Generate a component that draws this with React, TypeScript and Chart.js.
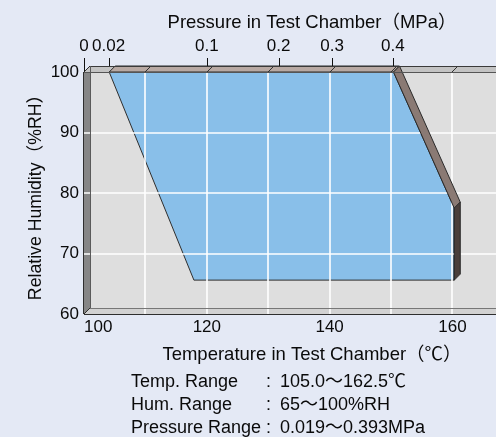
import React, { useEffect, useRef } from 'react';
import { Chart, registerables } from 'chart.js';

Chart.register(...registerables);

// ---------- data ----------
const temperatureC = [104.1, 150.4, 160.3, 160.3, 117.9];
const humidityRH = [100, 100, 77.5, 65.6, 65.6];
const temperatureTicks = [100, 110, 120, 130, 140, 150, 160, 170];
const temperatureLabelTicks = [100, 120, 140, 160];
const humidityTicks = [60, 70, 80, 90, 100];
const pressureTickLabels = ['0', '0.02', '0.1', '0.2', '0.3', '0.4'];
const pressureTickTemps = [100, 104, 120, 131.7, 140.4, 150.3];
const rangeNames = ['Temp. Range', 'Hum. Range', 'Pressure Range'];
const rangeValues = ['105.0～162.5℃', '65～100%RH', '0.019～0.393MPa'];

const FONT = '"Liberation Sans", Arial, "Noto Sans CJK JP", sans-serif';
const TEXT = '#0a0a0a';
const DX = 6;
const DY = 6;

function poly(ctx: CanvasRenderingContext2D, pts: number[][], fill: string | null, stroke: string | null) {
  ctx.beginPath();
  pts.forEach((p, i) => (i === 0 ? ctx.moveTo(p[0], p[1]) : ctx.lineTo(p[0], p[1])));
  ctx.closePath();
  if (fill) {
    ctx.fillStyle = fill;
    ctx.fill();
  }
  if (stroke) {
    ctx.strokeStyle = stroke;
    ctx.lineWidth = 1;
    ctx.stroke();
  }
}

function seg(ctx: CanvasRenderingContext2D, x1: number, y1: number, x2: number, y2: number, color: string, w = 1) {
  ctx.beginPath();
  ctx.moveTo(x1, y1);
  ctx.lineTo(x2, y2);
  ctx.strokeStyle = color;
  ctx.lineWidth = w;
  ctx.stroke();
}

const box3d = {
  id: 'box3d',
  beforeDraw(chart: any) {
    const { ctx, chartArea: a } = chart;
    const L = a.left, R = a.right + 10, T = a.top, B = a.bottom;
    ctx.save();
    ctx.fillStyle = '#dedede';
    ctx.fillRect(L + DX, T - DY, R - L, B - T);
    poly(ctx, [[L, B], [L + DX, B - DY], [R + DX, B - DY], [R, B]], '#d2d2d2', null);
    poly(ctx, [[L, T], [L + DX, T - DY], [L + DX, B - DY], [L, B]], '#868686', null);
    poly(ctx, [[L, T], [L + DX, T - DY], [R + DX, T - DY], [R, T]], '#c3c3c3', null);
    ctx.restore();
  },
  afterDatasetsDraw(chart: any) {
    const { ctx, chartArea: a, scales } = chart;
    const xs = scales.x, ys = scales.y, xt = scales.x2;
    const L = a.left, R = a.right + 10, T = a.top, B = a.bottom;
    ctx.save();

    // white grid lines
    xs.ticks.forEach((t: any) => {
      if (t.value <= xs.min) return;
      const px = Math.round(xs.getPixelForValue(t.value));
      seg(ctx, px, T, px, B, '#ffffff', 1.6);
    });
    ys.ticks.forEach((t: any) => {
      if (t.value <= ys.min || t.value >= ys.max) return;
      const py = Math.round(ys.getPixelForValue(t.value));
      seg(ctx, L - 1, py, R, py, '#ffffff', 1.6);
    });

    // extruded faces of the region
    const pts = temperatureC.map((t, i) => [xs.getPixelForValue(t), ys.getPixelForValue(humidityRH[i])]);
    let area2 = 0;
    for (let i = 0; i < pts.length; i++) {
      const p = pts[i], q = pts[(i + 1) % pts.length];
      area2 += p[0] * q[1] - q[0] * p[1];
    }
    const s = area2 > 0 ? 1 : -1;
    for (let i = 0; i < pts.length; i++) {
      const p = pts[i], q = pts[(i + 1) % pts.length];
      const ex = q[0] - p[0], ey = q[1] - p[1];
      const len = Math.hypot(ex, ey) || 1;
      const nx = (s * ey) / len, ny = (-s * ex) / len;
      if (nx * DX - ny * DY <= 0.01) continue;
      let col = '#8a7a74';
      if (ny < -0.95) col = '#b8a9a3';
      else if (nx > 0.95) col = '#4a3f3b';
      poly(ctx, [p, q, [q[0] + DX, q[1] - DY], [p[0] + DX, p[1] - DY]], col, '#2a2a2a');
    }

    // ceiling marks at grid lines
    xs.ticks.forEach((t: any) => {
      if (t.value <= xs.min) return;
      const px = Math.round(xs.getPixelForValue(t.value));
      seg(ctx, px, T, px + DX, T - DY, '#333333', 1);
    });

    // frame lines
    seg(ctx, L + DX, T - DY + 0.5, R + DX, T - DY + 0.5, '#3a3a3a');
    seg(ctx, L, T + 0.5, R, T + 0.5, '#555555');
    seg(ctx, L - 0.5, T, L - 0.5, B, '#2e2e2e');
    seg(ctx, L + DX + 0.5, T - DY, L + DX + 0.5, B - DY, '#5a5a5a');
    seg(ctx, L, T, L + DX, T - DY, '#2e2e2e');
    seg(ctx, L, B, L + DX, B - DY, '#2e2e2e');
    seg(ctx, L + DX, B - DY + 0.5, R, B - DY + 0.5, '#777777');
    seg(ctx, L, B + 0.5, R, B + 0.5, '#2e2e2e');

    // top axis tick marks
    xt.ticks.forEach((t: any) => {
      const px = Math.round(xt.getPixelForValue(t.value)) + 0.5;
      const yEnd = px >= L + DX ? T - DY : T - (px - L);
      seg(ctx, px, T - 14, px, yEnd, '#111111');
    });

    ctx.restore();
  },
};

export default function App() {
  const canvasRef = useRef<HTMLCanvasElement | null>(null);

  useEffect(() => {
    const canvas = canvasRef.current;
    if (!canvas) return;
    const points = temperatureC.map((t, i) => ({ x: t, y: humidityRH[i] }));
    points.push({ x: temperatureC[0], y: humidityRH[0] });

    const chart = new Chart(canvas, {
      type: 'line',
      data: {
        datasets: [
          {
            label: 'Control range',
            data: points,
            backgroundColor: '#89bfe9',
            borderColor: '#2e2e2e',
            borderWidth: 1,
            pointRadius: 0,
            fill: 'shape',
            tension: 0,
          } as any,
        ],
      },
      options: {
        responsive: false,
        animation: false,
        devicePixelRatio: 1,
        events: [],
        layout: { padding: 0 },
        plugins: { legend: { display: false }, tooltip: { enabled: false } },
        scales: {
          x: {
            type: 'linear',
            position: 'bottom',
            min: 100,
            max: 174.26,
            grid: { display: false, drawTicks: false },
            border: { display: false },
            afterBuildTicks: (sc: any) => {
              sc.ticks = temperatureTicks.map((v) => ({ value: v }));
            },
            afterFit: (sc: any) => {
              sc.height = 123;
            },
            ticks: {
              autoSkip: false,
              maxRotation: 0,
              minRotation: 0,
              padding: 3,
              color: TEXT,
              font: { family: FONT, size: 17 },
              callback: (v: any) =>
                temperatureLabelTicks.includes(Number(v)) ? (Number(v) === 100 ? '      100' : String(v)) : '',
            },
            title: {
              display: true,
              text: 'Temperature in Test Chamber（℃）',
              color: TEXT,
              font: { family: FONT, size: 18.5 },
              padding: { top: 0, bottom: 71 },
            },
          },
          x2: {
            type: 'linear',
            position: 'top',
            axis: 'x',
            min: 100,
            max: 174.26,
            grid: { display: false, drawTicks: false },
            border: { display: false },
            afterBuildTicks: (sc: any) => {
              sc.ticks = pressureTickTemps.map((v) => ({ value: v }));
            },
            afterFit: (sc: any) => {
              sc.height = 72;
            },
            ticks: {
              autoSkip: false,
              maxRotation: 0,
              minRotation: 0,
              padding: 15,
              color: TEXT,
              font: { family: FONT, size: 17 },
              callback: (_v: any, i: number) => pressureTickLabels[i],
            },
            title: {
              display: true,
              text: 'Pressure in Test Chamber（MPa）',
              color: TEXT,
              font: { family: FONT, size: 18.5 },
              padding: { top: 12, bottom: 0 },
            },
          } as any,
          y: {
            type: 'linear',
            position: 'left',
            min: 60,
            max: 100,
            grid: { display: false, drawTicks: false },
            border: { display: false },
            afterBuildTicks: (sc: any) => {
              sc.ticks = humidityTicks.map((v) => ({ value: v }));
            },
            afterFit: (sc: any) => {
              sc.width = 84;
            },
            ticks: {
              padding: 5,
              color: TEXT,
              font: { family: FONT, size: 17 },
            },
            title: {
              display: true,
              text: 'Relative Humidity（%RH）',
              color: TEXT,
              font: { family: FONT, size: 17.7 },
              padding: { top: 25, bottom: 0 },
            },
          },
        },
      },
      plugins: [box3d as any],
    });
    return () => chart.destroy();
  }, []);

  return (
    <div
      style={{
        position: 'fixed',
        left: 0,
        top: 0,
        width: 496,
        height: 437,
        overflow: 'hidden',
        background: '#e4e9f5',
      }}
    >
      <canvas
        ref={canvasRef}
        width={540}
        height={437}
        style={{ position: 'absolute', left: 0, top: 0, display: 'block' }}
      />
      {rangeNames.map((name, i) => (
        <div
          key={name}
          style={{
            position: 'absolute',
            left: 0,
            top: 370 + i * 23,
            width: 496,
            height: 23,
            lineHeight: '23px',
            fontFamily: FONT,
            fontSize: 18,
            color: TEXT,
            whiteSpace: 'nowrap',
          }}
        >
          <span style={{ position: 'absolute', left: 131 }}>{name}</span>
          <span style={{ position: 'absolute', left: 266 }}>:</span>
          <span style={{ position: 'absolute', left: 280 }}>{rangeValues[i]}</span>
        </div>
      ))}
    </div>
  );
}
